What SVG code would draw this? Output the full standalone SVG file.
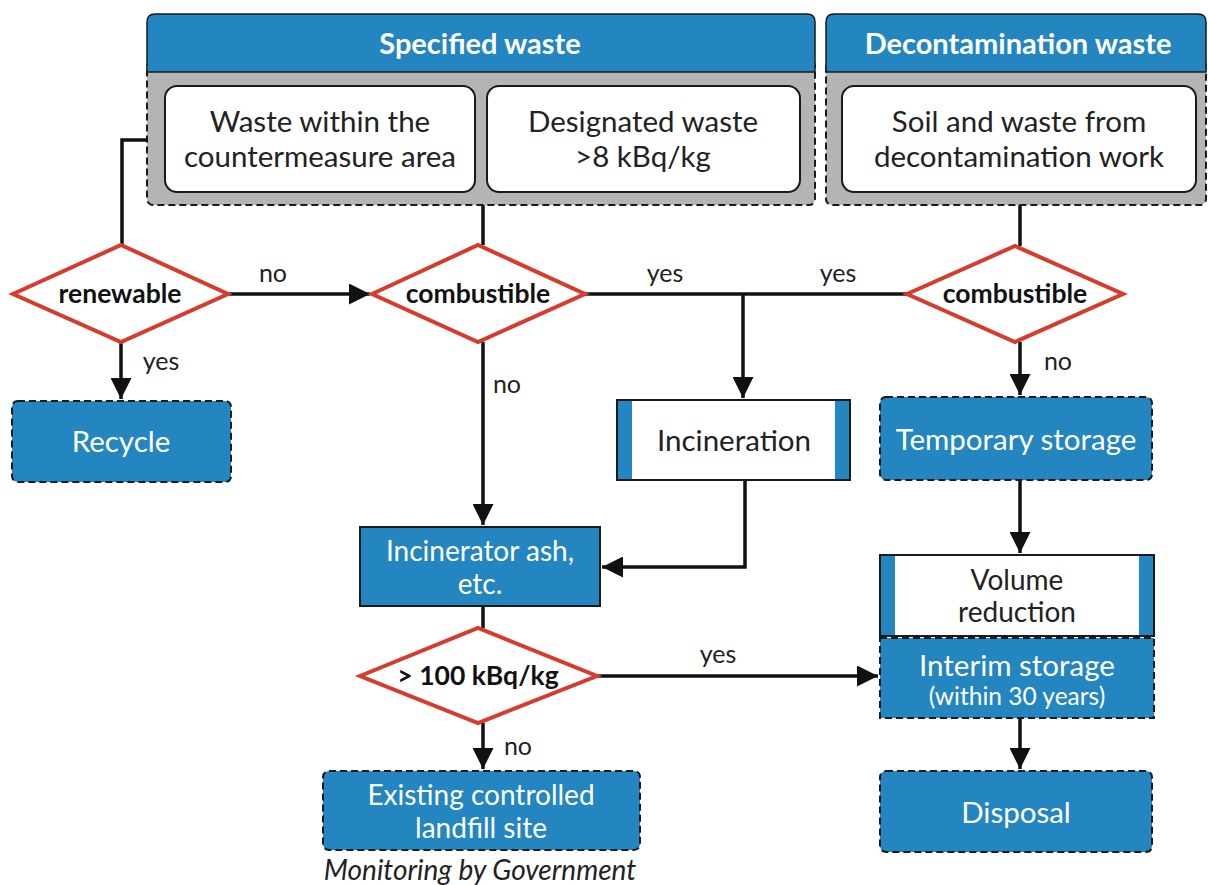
<svg xmlns="http://www.w3.org/2000/svg" width="1208" height="885" viewBox="0 0 1208 885">
<defs>
<style>
text{font-family:Lato,"Open Sans","Noto Sans",sans-serif;text-anchor:middle;}
.hdr{fill:#2386c1;stroke:#1a1a1a;stroke-width:1.5}
.hdrt{fill:#fff;font-weight:bold;font-size:29px}
.gray{fill:#b4b4b4;stroke:#1a1a1a;stroke-width:2;stroke-dasharray:7 4}
.wbox{fill:#fff;stroke:#1a1a1a;stroke-width:2}
.t{fill:#222;font-size:29.5px}
.wt{fill:#fff;font-size:29.5px}
.s2{font-size:28px}
.dia{fill:#fff;stroke:#d63b2c;stroke-width:4}
.dt{fill:#111;font-size:26.5px;font-weight:bold}
.term{fill:#2386c1;stroke:#1a1a1a;stroke-width:2;stroke-dasharray:7 4}
.proc{fill:#2386c1;stroke:#1a1a1a;stroke-width:2}
.bar{fill:#2386c1}
.lbl{fill:#222;font-size:25px}
.ln{fill:none;stroke:#111;stroke-width:3.5}
</style>
<marker id="ah" viewBox="0 0 10 10" refX="10" refY="5" markerWidth="6.5" markerHeight="6" markerUnits="strokeWidth" orient="auto">
<path d="M0,0 L10,5 L0,10 z" fill="#111"/>
</marker>
</defs>
<rect width="1208" height="885" fill="#fff"/>

<g id="specified-waste">
<rect class="gray" x="147" y="60" width="668" height="145" rx="6"/>
<path class="hdr" d="M147,72 V22 Q147,14 155,14 H807 Q815,14 815,22 V72 Z"/>
<text class="hdrt" x="480" y="54">Specified waste</text>
</g>
<g id="countermeasure-area">
<rect class="wbox" x="165" y="86" width="310" height="106" rx="12"/>
<text class="t" x="320" y="132">Waste within the</text>
<text class="t" x="320" y="167">countermeasure area</text>
</g>
<g id="designated-waste">
<rect class="wbox" x="487" y="86" width="313" height="106" rx="12"/>
<text class="t" x="643" y="132">Designated waste</text>
<text class="t" x="643" y="167">&gt;8 kBq/kg</text>
</g>

<g id="decontamination-waste">
<rect class="gray" x="826" y="60" width="380" height="145" rx="6"/>
<path class="hdr" d="M826,72 V22 Q826,14 834,14 H1198 Q1206,14 1206,22 V72 Z"/>
<text class="hdrt" x="1018" y="54">Decontamination waste</text>
</g>
<g id="soil-waste">
<rect class="wbox" x="842" y="86" width="354" height="106" rx="12"/>
<text class="t" x="1019" y="132">Soil and waste from</text>
<text class="t" x="1019" y="167">decontamination work</text>
</g>

<g id="connectors">
<path class="ln" d="M147,140 H122 V245"/>
<path class="ln" d="M483,205 V245"/>
<path class="ln" d="M1020,205 V246"/>
<path class="ln" d="M228,294 H370" marker-end="url(#ah)"/>
<path class="ln" d="M585,294 H907"/>
<path class="ln" d="M743,294 V398" marker-end="url(#ah)"/>
<path class="ln" d="M745,480 V567 H602" marker-end="url(#ah)"/>
<path class="ln" d="M483,342 V525" marker-end="url(#ah)"/>
<path class="ln" d="M483,606 V628"/>
<path class="ln" d="M597,676 H878" marker-end="url(#ah)"/>
<path class="ln" d="M483,723 V769" marker-end="url(#ah)"/>
<path class="ln" d="M121,342 V399" marker-end="url(#ah)"/>
<path class="ln" d="M1020,342 V395" marker-end="url(#ah)"/>
<path class="ln" d="M1020,480 V553" marker-end="url(#ah)"/>
<path class="ln" d="M1020,718 V769" marker-end="url(#ah)"/>
<text class="lbl" x="273" y="282">no</text>
<text class="lbl" x="665" y="282">yes</text>
<text class="lbl" x="838" y="282">yes</text>
<text class="lbl" x="161" y="370">yes</text>
<text class="lbl" x="507" y="393">no</text>
<text class="lbl" x="1058" y="370">no</text>
<text class="lbl" x="718" y="663">yes</text>
<text class="lbl" x="518" y="755">no</text>
</g>

<g id="renewable">
<polygon class="dia" points="13,294 121,245 228,294 121,342"/>
<text class="dt" x="120" y="303">renewable</text>
</g>
<g id="combustible-1">
<polygon class="dia" points="372,294 478,245 585,294 478,342"/>
<text class="dt" x="478" y="303">combustible</text>
</g>
<g id="combustible-2">
<polygon class="dia" points="907,294 1015,246 1123,294 1015,342"/>
<text class="dt" x="1015" y="303">combustible</text>
</g>

<g id="recycle">
<rect class="term" x="12" y="401" width="219" height="81" rx="6"/>
<text class="wt" x="121" y="452">Recycle</text>
</g>
<g id="incineration">
<rect class="wbox" x="617" y="400" width="233" height="80"/>
<rect class="bar" x="618" y="401" width="14" height="78"/>
<rect class="bar" x="835" y="401" width="14" height="78"/>
<text class="t" x="734" y="451">Incineration</text>
</g>
<g id="temporary-storage">
<rect class="term" x="880" y="397" width="272" height="83" rx="6"/>
<text class="wt" x="1016" y="450">Temporary storage</text>
</g>
<g id="incinerator-ash">
<rect class="proc" x="360" y="527" width="240" height="79"/>
<text class="wt s2" x="480" y="561">Incinerator ash,</text>
<text class="wt s2" x="480" y="594">etc.</text>
</g>
<g id="volume-reduction">
<rect class="wbox" x="880" y="555" width="274" height="81"/>
<rect class="bar" x="881" y="556" width="14" height="79"/>
<rect class="bar" x="1139" y="556" width="14" height="79"/>
<text class="t s2" x="1017" y="590">Volume</text>
<text class="t s2" x="1017" y="622">reduction</text>
</g>
<g id="interim-storage">
<rect class="term" x="880" y="638" width="274" height="80"/>
<text class="wt" x="1017" y="676">Interim storage</text>
<text class="wt" x="1017" y="705" style="font-size:24.5px">(within 30 years)</text>
</g>
<g id="greater-100">
<polygon class="dia" points="360,676 478,628 597,676 478,723"/>
<text class="dt" x="478" y="685">&gt; 100 kBq/kg</text>
</g>
<g id="landfill">
<rect class="term" x="323" y="771" width="317" height="79" rx="6"/>
<text class="wt s2" x="481" y="805">Existing controlled</text>
<text class="wt s2" x="481" y="838">landfill site</text>
<text class="t" x="480" y="880" style="font-style:italic;font-size:28px">Monitoring by Government</text>
</g>
<g id="disposal">
<rect class="term" x="880" y="771" width="272" height="81" rx="6"/>
<text class="wt" x="1016" y="823">Disposal</text>
</g>
</svg>
